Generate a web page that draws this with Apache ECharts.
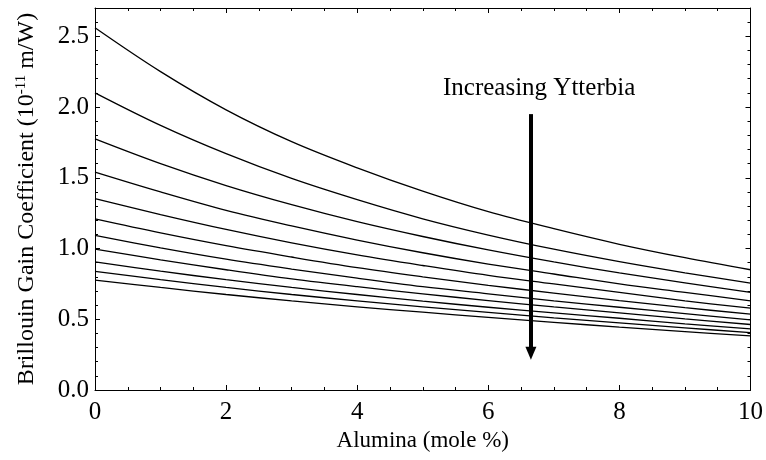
<!DOCTYPE html>
<html>
<head>
<meta charset="utf-8">
<script src="https://cdn.jsdelivr.net/npm/echarts@6/dist/echarts.min.js"></script>
<style>
html,body{margin:0;padding:0;background:#fff;}
#chart{width:766px;height:460px;}
</style>
</head>
<body>
<div id="chart"></div>
<script>
// Alumina content (mole %)
const alumina = [0, 1, 2, 3, 4, 5, 6, 7, 8, 9, 10];
// Brillouin gain coefficient (1e-11 m/W), one curve per ytterbia level (increasing ytterbia downward)
const gain1  = [2.56, 2.25, 1.98, 1.755, 1.57, 1.405, 1.26, 1.14, 1.03, 0.935, 0.85];
const gain2  = [2.10, 1.87, 1.67, 1.495, 1.345, 1.21, 1.095, 0.995, 0.907, 0.828, 0.755];
const gain3  = [1.775, 1.60, 1.445, 1.31, 1.19, 1.085, 0.99, 0.905, 0.828, 0.757, 0.69];
const gain4  = [1.54, 1.40, 1.27, 1.16, 1.06, 0.97, 0.89, 0.82, 0.75, 0.69, 0.63];
const gain5  = [1.353, 1.24, 1.135, 1.04, 0.955, 0.88, 0.81, 0.75, 0.69, 0.63, 0.578];
const gain6  = [1.209, 1.11, 1.02, 0.94, 0.865, 0.80, 0.74, 0.685, 0.632, 0.582, 0.536];
const gain7  = [1.093, 1.005, 0.925, 0.855, 0.79, 0.73, 0.68, 0.63, 0.585, 0.54, 0.496];
const gain8  = [0.996, 0.92, 0.85, 0.785, 0.73, 0.68, 0.632, 0.587, 0.545, 0.503, 0.463];
const gain9  = [0.906, 0.84, 0.78, 0.725, 0.675, 0.628, 0.585, 0.545, 0.507, 0.468, 0.432];
const gain10 = [0.838, 0.78, 0.725, 0.675, 0.63, 0.588, 0.548, 0.51, 0.474, 0.439, 0.406];
const gain11 = [0.777, 0.725, 0.675, 0.63, 0.588, 0.55, 0.513, 0.478, 0.445, 0.413, 0.382];
const curves = [gain1, gain2, gain3, gain4, gain5, gain6, gain7, gain8, gain9, gain10, gain11];
// Tick labels
const xTicks = [0, 2, 4, 6, 8, 10];
const yTicks = [0.0, 0.5, 1.0, 1.5, 2.0, 2.5];
// Arrow annotation (data coords)
const arrowX = 6.65, arrowTop = 1.95, arrowBottom = 0.26;
const annotation = 'Increasing Ytterbia';

const FONT = '"Liberation Serif", "DejaVu Serif", serif';
const chart = echarts.init(document.getElementById('chart'), null, {renderer: 'canvas'});

const series = curves.map((c) => ({
  type: 'line',
  xAxisIndex: 0, yAxisIndex: 0,
  data: alumina.map((x, j) => [x, c[j]]),
  smooth: 0.35,
  showSymbol: false,
  silent: true,
  lineStyle: {color: '#000', width: 1.3},
  z: 3
}));
series.push({
  type: 'line', xAxisIndex: 0, yAxisIndex: 0, data: [], silent: true,
  markLine: {
    silent: true,
    symbol: ['none', 'triangle'],
    symbolSize: [11, 13],
    lineStyle: {color: '#000', width: 4, type: 'solid'},
    label: {show: false},
    data: [[{coord: [arrowX, arrowTop]}, {coord: [arrowX, arrowBottom]}]]
  }
});

function axisBase(extra) {
  return Object.assign({
    axisLine: {show: true, onZero: false, lineStyle: {color: '#000', width: 1}},
    axisTick: {show: true, inside: true, length: 5, lineStyle: {color: '#000'}},
    splitLine: {show: false}
  }, extra);
}

chart.setOption({
  animation: false,
  backgroundColor: '#fff',
  grid: {left: 95, right: 15, top: 8, bottom: 70, containLabel: false},
  xAxis: [
    axisBase({
      type: 'value', min: 0, max: 10, interval: 2, position: 'bottom',
      minorTick: {show: true, splitNumber: 4, length: 3, lineStyle: {color: '#000'}},
      axisLabel: {color: '#000', fontFamily: FONT, fontSize: 25, margin: 10,
        formatter: v => xTicks.includes(v) ? String(v) : ''},
      name: 'Alumina (mole %)', nameLocation: 'middle', nameGap: 38,
      nameTextStyle: {color: '#000', fontFamily: FONT, fontSize: 23}
    }),
    axisBase({
      type: 'value', min: 0, max: 10, interval: 2, position: 'top',
      minorTick: {show: true, splitNumber: 4, length: 3, lineStyle: {color: '#000'}},
      axisLabel: {show: false}
    })
  ],
  yAxis: [
    axisBase({
      type: 'value', min: 0, max: 2.7, interval: 0.5, position: 'left',
      minorTick: {show: true, splitNumber: 5, length: 3, lineStyle: {color: '#000'}},
      axisLabel: {color: '#000', fontFamily: FONT, fontSize: 25, margin: 6,
        formatter: v => yTicks.some(t => Math.abs(t - v) < 1e-6) ? v.toFixed(1) : ''},
      name: '{a|Brillouin Gain Coefficient (10}{s|-11}{a| m/W)}',
      nameLocation: 'middle', nameGap: 56, nameRotate: 90,
      nameTextStyle: {color: '#000', fontFamily: FONT, fontSize: 24,
        rich: {
          a: {fontFamily: FONT, fontSize: 24, color: '#000'},
          s: {fontFamily: FONT, fontSize: 15, color: '#000', padding: [0, 0, 10, 0]}
        }}
    }),
    axisBase({
      type: 'value', min: 0, max: 2.7, interval: 0.5, position: 'right',
      minorTick: {show: true, splitNumber: 5, length: 3, lineStyle: {color: '#000'}},
      axisLabel: {show: false}
    })
  ],
  graphic: [{
    type: 'text', left: 443, top: 76,
    style: {text: annotation, fill: '#000', font: '25px ' + FONT}
  }],
  series: series
});
</script>
</body>
</html>
